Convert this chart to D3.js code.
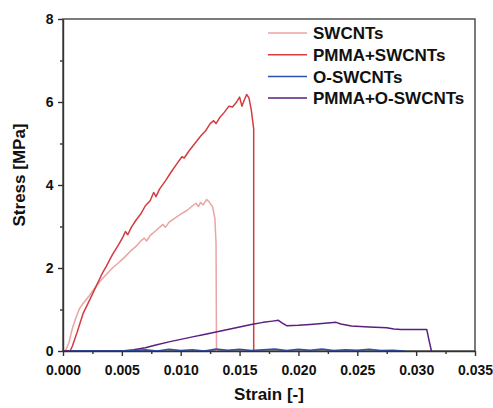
<!DOCTYPE html>
<html>
<head>
<meta charset="utf-8">
<script src="https://cdn.jsdelivr.net/npm/d3@7"></script>
<style>
  body { margin: 0; background: #fff; }
  text { font-family: Arial, "Liberation Sans", sans-serif; font-weight: bold; fill: #111; }
  .axis path, .axis line { stroke: #333; stroke-width: 1.4; }
  .axis text { font-size: 14px; }
  .curve { fill: none; stroke-width: 1.5; stroke-linejoin: round; }
</style>
</head>
<body>
<svg id="chart"></svg>
<script>
// series names + colours
const seriesNames = ["SWCNTs", "PMMA+SWCNTs", "O-SWCNTs", "PMMA+O-SWCNTs"];
const seriesColors = ["#eba3a3", "#d43c3f", "#2e4fb3", "#5a1f80"];

// strain / stress
const swcntsStrain = [0, 0.0002, 0.0005, 0.0008, 0.0011, 0.0014, 0.0018, 0.0022, 0.0027, 0.0032, 0.0037, 0.0042, 0.0047, 0.0052, 0.0057, 0.0062, 0.0066, 0.0069, 0.0071, 0.0074, 0.0078, 0.0082, 0.0085, 0.0087, 0.0090, 0.0095, 0.0100, 0.0105, 0.0110, 0.0113, 0.0115, 0.0117, 0.0119, 0.0122, 0.0124, 0.0127, 0.0129, 0.0130, 0.01304];
const swcntsStress = [0, 0, 0.2, 0.55, 0.8, 1.02, 1.18, 1.32, 1.52, 1.7, 1.85, 2.0, 2.12, 2.25, 2.4, 2.52, 2.65, 2.72, 2.65, 2.78, 2.88, 2.98, 3.05, 2.98, 3.1, 3.2, 3.3, 3.38, 3.5, 3.56, 3.48, 3.58, 3.52, 3.65, 3.6, 3.48, 3.2, 2.6, 0];

const pmmaSwStrain = [0, 0.0006, 0.0008, 0.0012, 0.0017, 0.0023, 0.0028, 0.0033, 0.0037, 0.0042, 0.0047, 0.0051, 0.0053, 0.0055, 0.0058, 0.0062, 0.0066, 0.0070, 0.0074, 0.0077, 0.0079, 0.0082, 0.0087, 0.0092, 0.0097, 0.0101, 0.0103, 0.0107, 0.0112, 0.0117, 0.0121, 0.0125, 0.0128, 0.0130, 0.0133, 0.0137, 0.0141, 0.0144, 0.0147, 0.0150, 0.0152, 0.0154, 0.0156, 0.0158, 0.0160, 0.0162, 0.0162];
const pmmaSwStress = [0, 0, 0.12, 0.45, 0.9, 1.25, 1.55, 1.85, 2.05, 2.32, 2.55, 2.75, 2.88, 2.8, 2.98, 3.15, 3.3, 3.5, 3.62, 3.82, 3.72, 3.9, 4.1, 4.32, 4.52, 4.68, 4.65, 4.82, 5.0, 5.18, 5.3, 5.48, 5.55, 5.48, 5.62, 5.75, 5.9, 5.88, 5.98, 6.12, 5.9, 6.05, 6.18, 6.1, 5.8, 5.35, 0];

const oswStrain = [0.0005, 0.002, 0.004, 0.006, 0.007, 0.008, 0.009, 0.010, 0.011, 0.012, 0.013, 0.014, 0.015, 0.016, 0.017, 0.018, 0.019, 0.020, 0.021, 0.022, 0.023, 0.024, 0.025, 0.026, 0.027, 0.028, 0.029];
const oswStress = [0, 0.005, 0, 0.01, 0.03, 0, 0.04, 0.01, 0.03, 0, 0.05, 0.02, 0.04, 0.01, 0.03, 0.05, 0.01, 0.04, 0.02, 0.05, 0.01, 0.03, 0.02, 0.04, 0.01, 0.02, 0];

const pmmaOswStrain = [0, 0.005, 0.006, 0.007, 0.0078, 0.009, 0.010, 0.011, 0.012, 0.013, 0.014, 0.015, 0.016, 0.017, 0.0178, 0.0183, 0.0186, 0.0190, 0.0200, 0.0210, 0.0220, 0.0232, 0.0236, 0.0245, 0.0260, 0.0275, 0.0281, 0.0287, 0.0300, 0.0309, 0.0311, 0.0313];
const pmmaOswStress = [0, 0, 0.03, 0.08, 0.14, 0.22, 0.28, 0.34, 0.4, 0.46, 0.52, 0.58, 0.64, 0.69, 0.72, 0.74, 0.68, 0.61, 0.62, 0.64, 0.66, 0.69, 0.65, 0.6, 0.58, 0.56, 0.53, 0.52, 0.52, 0.52, 0.25, 0];

const xTicks = [0, 0.005, 0.010, 0.015, 0.020, 0.025, 0.030, 0.035];
const yTicks = [0, 2, 4, 6, 8];

const seriesData = [
  [swcntsStrain, swcntsStress],
  [pmmaSwStrain, pmmaSwStress],
  [oswStrain, oswStress],
  [pmmaOswStrain, pmmaOswStress]
];

const W = 493, H = 408;
const margin = {top: 19, right: 18, bottom: 57, left: 63};
const width = W - margin.left - margin.right;
const height = H - margin.top - margin.bottom;

const svg = d3.select('#chart').attr('width', W).attr('height', H);
const chart = svg.append('g').attr('transform', `translate(${margin.left},${margin.top})`);

const xScale = d3.scaleLinear().domain([0, 0.035]).range([0, width]);
const yScale = d3.scaleLinear().domain([0, 8]).range([height, 0]);

// minor ticks
const xMinor = d3.range(0.0025, 0.035, 0.005);
const yMinor = [1, 3, 5, 7];
chart.append('g').attr('class', 'axis')
  .attr('transform', `translate(0,${height})`)
  .call(d3.axisBottom(xScale).tickValues(xMinor).tickSize(3).tickFormat(''))
  .select('.domain').remove();
chart.append('g').attr('class', 'axis')
  .call(d3.axisLeft(yScale).tickValues(yMinor).tickSize(3).tickFormat(''))
  .select('.domain').remove();

// frame
chart.append('rect')
  .attr('width', width).attr('height', height)
  .attr('fill', 'none').attr('stroke', '#444').attr('stroke-width', 1.4);

// curves, O-SWCNTs drawn last so it sits on the baseline
const line = d3.line().x(d => xScale(d[0])).y(d => yScale(d[1]));
[0, 1, 3, 2].forEach(i => {
  const pts = seriesData[i][0].map((s, k) => [s, seriesData[i][1][k]]);
  chart.append('path')
    .attr('class', 'curve')
    .attr('d', line(pts))
    .attr('stroke', seriesColors[i])
    .attr('stroke-width', i === 2 ? 1.2 : 1.5);
});

// axes
const xAxisG = chart.append('g').attr('class', 'axis')
  .attr('transform', `translate(0,${height})`)
  .call(d3.axisBottom(xScale).tickValues(xTicks).tickSize(5).tickSizeOuter(0).tickFormat(d3.format('.3f')));
xAxisG.selectAll('text').attr('dy', '1.15em');

const yAxisG = chart.append('g').attr('class', 'axis')
  .call(d3.axisLeft(yScale).tickValues(yTicks).tickSize(5).tickSizeOuter(0).tickFormat(d3.format('d')));
yAxisG.selectAll('text').attr('dx', '-0.1em');

// axis titles
svg.append('text')
  .attr('x', margin.left + width / 2).attr('y', 400)
  .attr('text-anchor', 'middle').style('font-size', '17px')
  .text('Strain [-]');
svg.append('text')
  .attr('transform', `translate(25,${margin.top + height / 2 - 10}) rotate(-90)`)
  .attr('text-anchor', 'middle').style('font-size', '17px')
  .text('Stress [MPa]');

// legend
const legend = svg.append('g').attr('transform', 'translate(268,33)');
seriesNames.forEach((name, i) => {
  const g = legend.append('g').attr('transform', `translate(0,${i * 21.7})`);
  g.append('line').attr('x1', 0).attr('x2', 39).attr('y1', 0).attr('y2', 0)
    .attr('stroke', seriesColors[i]).attr('stroke-width', 1.5);
  g.append('text').attr('x', 45).attr('y', 0).attr('dy', '0.36em')
    .style('font-size', '17px').text(name);
});
</script>
</body>
</html>
